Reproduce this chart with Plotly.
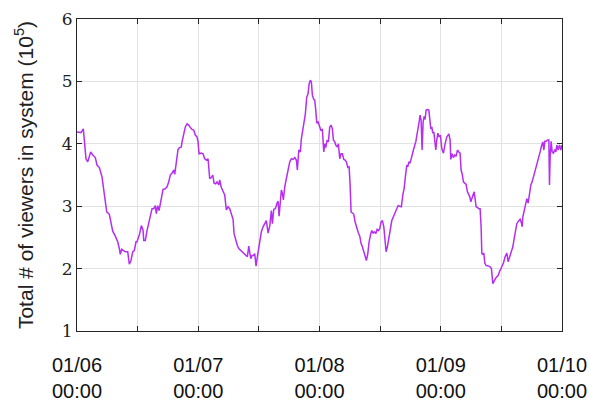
import pandas as pd
import plotly.graph_objects as go

# Hours elapsed since 01/06 00:00 and the matching viewer counts (in units of 1e5)
hours = [
    0.00, 0.14, 0.79, 1.25, 1.58, 1.78, 2.12, 2.32, 2.71, 3.11, 3.62, 3.96, 4.42, 4.95, 5.41, 5.88,
    6.40, 6.73, 7.07, 7.58, 8.06, 8.38, 8.57, 8.85, 9.25, 9.56, 10.04, 10.36, 10.69, 11.03, 11.35, 11.68,
    11.88, 12.41, 12.73, 13.07, 13.21, 13.52, 13.86, 14.39, 14.85, 15.19, 15.50, 15.70, 15.98, 16.24,
    16.63, 17.03, 17.48, 17.82, 18.16, 18.47, 18.81, 19.15, 19.34, 19.54, 19.80, 20.00, 20.33, 20.65,
    20.79, 21.13, 21.44, 21.78, 22.12, 22.43, 22.77, 23.11, 23.42, 23.76,
    23.96, 24.16, 24.61, 24.95, 25.28, 25.60, 25.94, 26.27, 26.59, 26.87, 27.13, 27.46, 27.72, 28.06,
    28.25, 28.57, 28.91, 29.24, 29.56, 29.90, 30.23, 30.55, 30.89, 31.09, 31.42, 31.74, 32.02, 32.41,
    32.73, 33.07, 33.40, 33.72, 34.00, 34.19, 34.39, 34.65, 34.91, 35.18, 35.44, 35.70, 35.98,
    36.17, 36.49, 36.83, 37.16, 37.48, 37.82, 38.15, 38.47, 38.67, 38.95, 39.26, 39.60, 39.80, 40.00,
    40.25, 40.45, 40.65, 40.85, 41.12, 41.44, 41.78, 42.11, 42.43, 42.77, 43.11, 43.42, 43.62, 43.90,
    44.21, 44.41, 44.61, 44.89, 45.20, 45.48, 45.74, 45.94, 46.19, 46.39, 46.59, 46.87, 47.06, 47.26,
    47.46, 47.72, 47.98,
    48.25, 48.57, 48.85, 49.04, 49.24, 49.50, 49.76, 50.03, 50.29, 50.55, 50.75, 51.02, 51.22, 51.54,
    51.74, 52.01, 52.27, 52.53, 52.81, 53.06, 53.32, 53.60, 53.86, 54.05, 54.25, 54.51, 54.79, 55.04,
    55.30, 55.70, 55.97, 56.23, 56.49, 56.77, 57.02, 57.28, 57.56, 57.82, 58.15, 58.35, 58.61, 58.87,
    59.14, 59.40, 59.66, 59.93, 60.19,
    60.45, 60.73, 60.98, 61.18, 61.44, 61.78, 62.11, 62.31, 62.63, 62.96, 63.30, 63.56, 63.89, 64.21,
    64.49, 64.75, 65.00, 65.28, 65.48, 65.68, 65.93, 66.19, 66.39, 66.59, 66.87, 67.06, 67.32, 67.52,
    67.72, 67.91, 68.11, 68.31, 68.51, 68.71, 68.90, 69.10, 69.36, 69.64, 69.83, 70.03, 70.23, 70.43,
    70.63, 70.82, 71.02, 71.22, 71.42, 71.68, 71.93,
    72.21, 72.53, 72.86, 73.20, 73.60, 73.85, 73.99, 74.25, 74.51, 74.78, 75.04, 75.30, 75.58, 75.83,
    76.03, 76.23, 76.49, 76.76, 77.02, 77.28, 77.56, 77.75, 77.95, 78.15, 78.41, 78.61, 78.80, 79.00,
    79.26, 79.54, 79.79, 79.99, 80.13, 80.33, 80.53, 80.72, 80.98, 81.24, 81.52, 81.77, 82.03, 82.31,
    82.57, 82.82, 83.10, 83.36, 83.62, 83.89,
    84.09, 84.41, 84.74, 85.08, 85.34, 85.60, 85.93, 86.27, 86.53, 86.78, 87.06, 87.38, 87.71, 87.97,
    88.11, 88.25, 88.51, 88.76, 89.04, 89.30, 89.56, 89.83, 90.09, 90.35, 90.63, 90.88, 91.14, 91.42,
    91.67, 91.93, 92.21, 92.41, 92.60, 92.86, 93.12, 93.40, 93.52, 93.65, 93.85, 94.05, 94.31, 94.58,
    94.78, 94.98, 95.24, 95.50, 95.77, 95.97,
]

viewers = [
    4.19, 4.19, 4.18, 4.24, 4.00, 3.76, 3.71, 3.78, 3.87, 3.82, 3.78, 3.66, 3.62, 3.47, 3.20, 2.91,
    2.87, 2.75, 2.60, 2.52, 2.43, 2.32, 2.23, 2.31, 2.29, 2.27, 2.27, 2.07, 2.13, 2.27, 2.29, 2.43,
    2.43, 2.56, 2.69, 2.62, 2.45, 2.45, 2.61, 2.80, 2.96, 2.96, 3.01, 2.88, 3.01, 2.93,
    3.12, 3.27, 3.28, 3.31, 3.39, 3.50, 3.53, 3.58, 3.51, 3.66, 3.79, 3.91, 3.94, 3.95,
    4.03, 4.19, 4.27, 4.32, 4.30, 4.26, 4.23, 4.22, 4.14, 4.11,
    4.03, 3.84, 3.85, 3.84, 3.76, 3.74, 3.76, 3.44, 3.46, 3.50, 3.37, 3.36, 3.39, 3.34,
    3.42, 3.30, 3.23, 3.18, 2.94, 2.99, 2.96, 2.88, 2.79, 2.56, 2.45, 2.37, 2.32, 2.29,
    2.27, 2.25, 2.23, 2.19, 2.36, 2.25, 2.16, 2.21, 2.21, 2.24, 2.04, 2.19, 2.33,
    2.45, 2.59, 2.67, 2.73, 2.77, 2.57, 2.68, 2.93, 2.72, 2.95, 2.96, 3.05, 3.08, 2.84,
    3.10, 3.26, 3.21, 3.10, 3.31, 3.42, 3.58, 3.71, 3.76, 3.75, 3.78, 3.74, 3.58, 3.90,
    3.87, 4.08, 4.19, 4.35, 4.48, 4.75, 4.80, 4.96, 5.02, 4.99, 4.78, 4.71, 4.70, 4.54,
    4.33, 4.35, 4.27,
    4.22, 4.23, 3.87, 4.00, 3.94, 4.06, 4.03, 4.27, 4.30, 4.24, 4.06, 4.03, 3.98, 3.95,
    4.00, 3.76, 3.84, 3.84, 3.75, 3.74, 3.71, 3.62, 3.63, 3.36, 2.91, 2.89, 2.87, 2.75,
    2.67, 2.57, 2.52, 2.40, 2.35, 2.27, 2.16, 2.13, 2.24, 2.43, 2.56, 2.61, 2.57, 2.59,
    2.56, 2.63, 2.61, 2.64, 2.75,
    2.77, 2.67, 2.40, 2.27, 2.35, 2.51, 2.72, 2.77, 2.83, 2.89, 2.96, 3.01, 3.00, 2.99,
    3.18, 3.28, 3.47, 3.66, 3.63, 3.71, 3.69, 3.79, 3.87, 3.90, 3.98, 4.03, 4.16, 4.24,
    4.35, 4.46, 4.38, 3.90, 4.35, 4.44, 4.39, 4.54, 4.55, 4.54, 4.32, 4.24, 4.27, 4.17,
    4.19, 4.01, 3.90, 4.06, 4.17, 4.11, 4.14,
    3.92, 3.85, 4.00, 4.11, 4.16, 4.06, 3.75, 3.84, 3.78, 3.82, 3.80, 3.90, 3.87, 3.85,
    3.58, 3.52, 3.39, 3.37, 3.35, 3.23, 3.19, 3.15, 3.07, 3.12, 3.21, 3.23, 3.12, 2.99,
    2.98, 2.96, 2.96, 2.67, 2.24, 2.23, 2.25, 2.09, 2.05, 2.05, 2.04, 2.03, 2.00, 1.76,
    1.81, 1.84, 1.87, 1.89, 1.95, 2.00,
    2.03, 2.09, 2.19, 2.25, 2.11, 2.19, 2.27, 2.35, 2.48, 2.61, 2.72, 2.76, 2.79, 2.73,
    2.67, 2.83, 2.93, 2.99, 3.12, 3.05, 3.21, 3.34, 3.39, 3.47, 3.52, 3.60, 3.67, 3.78,
    3.87, 3.96, 4.03, 3.90, 4.04, 4.04, 4.06, 4.06, 3.34, 3.79, 4.04, 3.87, 3.85, 3.91,
    3.87, 3.98, 3.90, 3.98, 3.90, 3.98,
]
assert len(hours) == len(viewers)

# Labelled ticks at each midnight; unlabelled minor ticks/grid every 12 hours
tick_days = [0, 1, 2, 3, 4]
tick_text = ["01/06<br>00:00", "01/07<br>00:00", "01/08<br>00:00",
             "01/09<br>00:00", "01/10<br>00:00"]

start = pd.Timestamp("2017-01-06 00:00")
times = start + pd.to_timedelta(hours, unit="h")
tick_times = start + pd.to_timedelta(tick_days, unit="D")
HALF_DAY_MS = 12 * 3600 * 1000

AXIS_COLOR = "#262626"
GRID_COLOR = "#e2e2e2"

fig = go.Figure(
    go.Scatter(
        x=times,
        y=viewers,
        mode="lines",
        line=dict(color="#b52ef2", width=1.5),
        showlegend=False,
    )
)

fig.update_layout(
    width=590,
    height=404,
    margin=dict(l=77, r=28, t=19, b=73),
    paper_bgcolor="white",
    plot_bgcolor="white",
    showlegend=False,
)

fig.update_xaxes(
    type="date",
    range=[tick_times[0], tick_times[-1]],
    tickmode="array",
    tickvals=tick_times,
    ticktext=tick_text,
    ticks="inside",
    ticklen=5,
    tickcolor=AXIS_COLOR,
    showline=True,
    linecolor=AXIS_COLOR,
    linewidth=1,
    mirror="ticks",
    showgrid=True,
    gridcolor=GRID_COLOR,
    gridwidth=1,
    minor=dict(
        tick0=tick_times[0],
        dtick=HALF_DAY_MS,
        ticks="inside",
        ticklen=5,
        tickcolor=AXIS_COLOR,
        showgrid=True,
        gridcolor=GRID_COLOR,
        gridwidth=1,
    ),
    zeroline=False,
    automargin=False,
    ticklabelstandoff=16,
    tickfont=dict(family="Liberation Sans, Arial, sans-serif", size=20, color="#111111"),
)

fig.update_yaxes(
    range=[1, 6],
    tick0=1,
    dtick=1,
    ticks="inside",
    ticklen=5,
    tickcolor=AXIS_COLOR,
    showline=True,
    linecolor=AXIS_COLOR,
    linewidth=1,
    mirror="ticks",
    showgrid=True,
    gridcolor=GRID_COLOR,
    gridwidth=1,
    zeroline=False,
    automargin=False,
    tickfont=dict(family="DejaVu Serif, serif", size=17, color="#222222"),
    title=dict(
        text="Total # of viewers in system (10<sup>5</sup>)",
        font=dict(family="Liberation Sans, Arial, sans-serif", size=21, color="#222222"),
        standoff=22,
    ),
)

fig.write_html("out.html")
